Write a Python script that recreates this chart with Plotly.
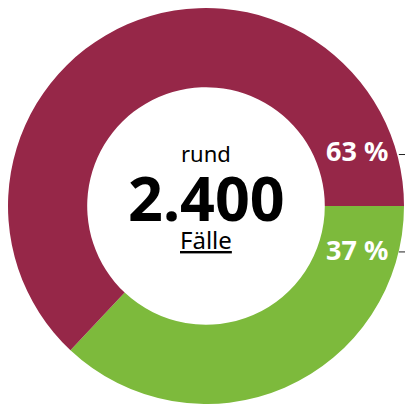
import plotly.graph_objects as go

categories = ["Anteil grün", "Anteil rot"]
values = [37, 63]
colors = ["#7dba3c", "#962748"]
center_top = "rund"
center_value = "2.400"
center_bottom = "Fälle"

fig = go.Figure(go.Pie(
    labels=categories,
    values=values,
    hole=0.6,
    sort=False,
    direction="clockwise",
    rotation=90,
    marker=dict(colors=colors, line=dict(width=0)),
    textinfo="none",
    hoverinfo="label+percent",
    showlegend=False,
))

FONT = "Noto Sans"
label_y = {"Anteil rot": 0.639, "Anteil grün": 0.389}
tick_y = {"Anteil rot": 0.630, "Anteil grün": 0.384}
for cat, v in zip(categories, values):
    fig.add_annotation(x=0.881, y=label_y[cat], xref="paper", yref="paper",
                       text=f"<b>{v} %</b>", showarrow=False,
                       font=dict(family=FONT, size=27, color="white"),
                       xanchor="center", yanchor="middle")
    fig.add_shape(type="line", xref="paper", yref="paper",
                  x0=0.987, x1=1.003, y0=tick_y[cat], y1=tick_y[cat],
                  line=dict(color="#222222", width=1))

fig.add_annotation(x=0.5, y=0.635, xref="paper", yref="paper", text=center_top,
                   showarrow=False, font=dict(family=FONT, size=22, color="black"),
                   xanchor="center", yanchor="middle")
fig.add_annotation(x=0.5, y=0.521, xref="paper", yref="paper", text=f"<b>{center_value}</b>",
                   showarrow=False, font=dict(family=FONT, size=61, color="black"),
                   xanchor="center", yanchor="middle")
fig.add_annotation(x=0.5, y=0.416, xref="paper", yref="paper", text=f"<u>{center_bottom}</u>",
                   showarrow=False, font=dict(family=FONT, size=24, color="black"),
                   xanchor="center", yanchor="middle")

fig.update_layout(
    width=405, height=404,
    margin=dict(l=8, r=1, t=8, b=0),
    paper_bgcolor="white", plot_bgcolor="white",
)
fig.write_html(
    "out.html",
    config={"displayModeBar": False},
    post_script="document.body.style.margin='0';document.body.style.overflow='hidden';",
)
